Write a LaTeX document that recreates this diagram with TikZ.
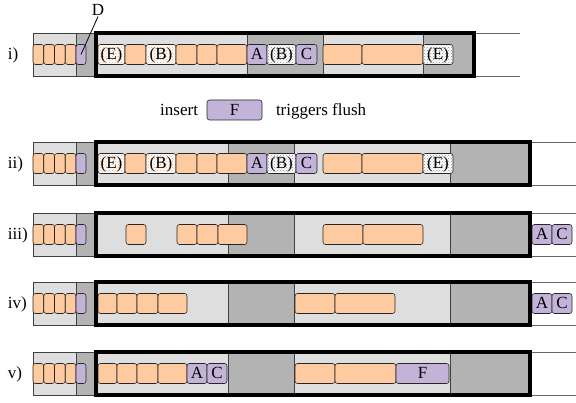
\documentclass[tikz,border=0pt]{standalone}
\usepackage{fontspec}
\setmainfont{Liberation Serif}
\usetikzlibrary{patterns}
\definecolor{peach}{HTML}{FDCB9F}
\definecolor{lav}{HTML}{C3B3D9}
\definecolor{lgray}{HTML}{DEDEDE}
\definecolor{dgray}{HTML}{B3B3B3}
\definecolor{hatchor}{HTML}{F2A868}
\definecolor{hatchgr}{HTML}{8E8E9C}
\tikzset{
  txt/.style={font=\fontsize{17}{18}\selectfont, inner sep=0pt, outer sep=0pt, text height=12pt, text depth=1pt},
  elem/.style={txt, draw=black!85, line width=0.6pt, rounded corners=2.5pt, minimum height=20pt, anchor=west},
  org/.style={elem, fill=peach},
  pur/.style={elem, fill=lav},
  ghosto/.style={elem, preaction={fill=white}, pattern=crosshatch dots, pattern color=hatchor},
  ghostp/.style={elem, preaction={fill=white}, pattern=crosshatch dots, pattern color=hatchgr},
  lsec/.style={fill=lgray, draw=black!75, line width=0.6pt},
  dsec/.style={fill=dgray, draw=black!75, line width=0.6pt},
  frame/.style={draw=black, line width=3.2pt},
  tail/.style={draw=black!60, line width=0.8pt},
  rowlbl/.style={txt, anchor=west}
}
% \el{style}{name}{x1}{x2}{y}{text}
\newcommand\el[6]{\node[#1, minimum width={#4pt-#3pt}] (#2) at (#3,#5) {#6};}
% \rowbg{top}{bottom}{s1}{s2}{s3}{R}{E}
\newcommand\rowbg[7]{%
  \path[lsec] (33,#1) rectangle (76,#2);
  \path[dsec] (76,#1) rectangle (96,#2);
  \path[lsec] (96,#1) rectangle (#3,#2);
  \path[dsec] (#3,#1) rectangle (#4,#2);
  \path[lsec] (#4,#1) rectangle (#5,#2);
  \path[dsec] (#5,#1) rectangle (#6,#2);
  \draw[tail] (#6,#1) -- (#7,#1) (#6,#2) -- (#7,#2);
}
% \leftel{prefix}{y}
\newcommand\leftel[2]{%
  \el{org}{#1l1}{33}{43.75}{#2}{}
  \el{org}{#1l2}{43.75}{54.5}{#2}{}
  \el{org}{#1l3}{54.5}{65.25}{#2}{}
  \el{org}{#1l4}{65.25}{76}{#2}{}
  \el{pur}{#1d}{76}{86}{#2}{}
}
\begin{document}
\begin{tikzpicture}[x=1pt,y=-1pt]
\useasboundingbox (0,0) rectangle (576,403);

% ---------- row i ----------
\rowbg{33}{76}{247}{323}{423}{474}{520}
\leftel{a}{54.5}
\el{ghosto}{a1}{98}{125}{54.5}{(E)}
\el{org}{a2}{125}{146}{54.5}{}
\el{ghosto}{a3}{146}{176}{54.5}{(B)}
\el{org}{a4}{176}{197}{54.5}{}
\el{org}{a5}{197}{217}{54.5}{}
\el{org}{a6}{217}{247}{54.5}{}
\el{pur}{a7}{247}{267}{54.5}{A}
\el{ghostp}{a8}{267}{296}{54.5}{(B)}
\el{pur}{a9}{296}{317}{54.5}{C}
\el{org}{a10}{323}{362}{54.5}{}
\el{org}{a11}{362}{423}{54.5}{}
\el{ghostp}{a12}{423}{453}{54.5}{(E)}
\draw[frame] (96,33) rectangle (474,76);
\node[rowlbl] (li) at (8,54.5) {i)};
\node[txt] (Dlbl) at (98,10) {D};
\draw[line width=0.8pt] (Dlbl.south) -- (ad.center);

% ---------- insert line ----------
\node[txt, anchor=east] (ins) at (198,110) {insert};
\el{pur}{Fnew}{207}{262}{110}{F}
\node[txt, anchor=west] (trig) at (276,110) {triggers flush};

% ---------- row ii ----------
\rowbg{142}{185}{228}{294}{450}{530}{576}
\leftel{b}{163.5}
\el{ghosto}{b1}{98}{125}{163.5}{(E)}
\el{org}{b2}{125}{146}{163.5}{}
\el{ghosto}{b3}{146}{176}{163.5}{(B)}
\el{org}{b4}{176}{197}{163.5}{}
\el{org}{b5}{197}{217}{163.5}{}
\el{org}{b6}{217}{247}{163.5}{}
\el{pur}{b7}{247}{267}{163.5}{A}
\el{ghostp}{b8}{267}{296}{163.5}{(B)}
\el{pur}{b9}{296}{317}{163.5}{C}
\el{org}{b10}{323}{362}{163.5}{}
\el{org}{b11}{362}{423}{163.5}{}
\el{ghostp}{b12}{423}{453}{163.5}{(E)}
\draw[frame] (96,142) rectangle (530,185);
\node[rowlbl] (lii) at (8,163.5) {ii)};

% ---------- row iii ----------
\rowbg{213}{256}{228}{294}{450}{530}{576}
\leftel{c}{234.5}
\el{org}{c1}{126}{146}{234.5}{}
\el{org}{c2}{177}{197}{234.5}{}
\el{org}{c3}{197}{218}{234.5}{}
\el{org}{c4}{218}{247}{234.5}{}
\el{org}{c5}{323}{363}{234.5}{}
\el{org}{c6}{363}{423}{234.5}{}
\el{pur}{c7}{532}{552}{234.5}{A}
\el{pur}{c8}{552}{572}{234.5}{C}
\draw[frame] (96,213) rectangle (530,256);
\node[rowlbl] (liii) at (8,234.5) {iii)};

% ---------- row iv ----------
\rowbg{282}{325}{228}{294}{450}{530}{576}
\leftel{d}{303.5}
\el{org}{d1}{98}{117}{303.5}{}
\el{org}{d2}{117}{137}{303.5}{}
\el{org}{d3}{137}{158}{303.5}{}
\el{org}{d4}{158}{187}{303.5}{}
\el{org}{d5}{295}{335}{303.5}{}
\el{org}{d6}{335}{395}{303.5}{}
\el{pur}{d7}{532}{552}{303.5}{A}
\el{pur}{d8}{552}{572}{303.5}{C}
\draw[frame] (96,282) rectangle (530,325);
\node[rowlbl] (liv) at (8,303.5) {iv)};

% ---------- row v ----------
\rowbg{352}{395}{228}{294}{450}{530}{576}
\leftel{e}{373.5}
\el{org}{e1}{98}{117}{373.5}{}
\el{org}{e2}{117}{137}{373.5}{}
\el{org}{e3}{137}{158}{373.5}{}
\el{org}{e4}{158}{187}{373.5}{}
\el{pur}{e5}{187}{207}{373.5}{A}
\el{pur}{e6}{207}{227}{373.5}{C}
\el{org}{e7}{295}{335}{373.5}{}
\el{org}{e8}{335}{396}{373.5}{}
\el{pur}{e9}{396}{449}{373.5}{F}
\draw[frame] (96,352) rectangle (530,395);
\node[rowlbl] (lv) at (8,373.5) {v)};
\end{tikzpicture}
\end{document}
